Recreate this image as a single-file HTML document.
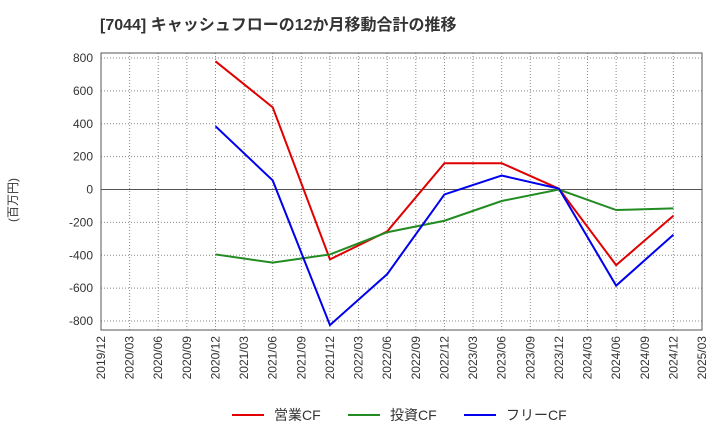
<!DOCTYPE html>
<html><head><meta charset="utf-8"><style>
body{margin:0;background:#fff;font-family:"Liberation Sans","Noto Sans CJK JP",sans-serif;}
</style></head><body>
<svg id="c" width="720" height="440" xmlns="http://www.w3.org/2000/svg">
<text x="100" y="30" font-size="16" font-weight="bold" fill="#333">[7044]  キャッシュフローの12か月移動合計の推移</text>
<text x="17" y="200" font-size="12" fill="#333" transform="rotate(-90 17 200)" text-anchor="middle">(百万円)</text>
</svg>
<script>
const xLabels=["2019/12","2020/03","2020/06","2020/09","2020/12","2021/03","2021/06","2021/09","2021/12","2022/03","2022/06","2022/09","2022/12","2023/03","2023/06","2023/09","2023/12","2024/03","2024/06","2024/09","2024/12","2025/03"];
const yTicks=[800,600,400,200,0,-200,-400,-600,-800];
const periods=["2020/12","2021/06","2021/12","2022/06","2022/12","2023/06","2023/12","2024/06","2024/12"];
const opCF=[780,500,-425,-255,160,160,5,-460,-160];
const invCF=[-395,-445,-395,-260,-190,-70,0,-125,-115];
const freeCF=[385,55,-825,-515,-30,85,5,-585,-275];
const svg=document.getElementById('c');
const NS="http://www.w3.org/2000/svg";
const L=101,R=702,T=53,B=330;
const y=v=>189.5-v*(263/1600);
const x=lbl=>L+xLabels.indexOf(lbl)*(R-L)/(xLabels.length-1);
function mk(t,a){const e=document.createElementNS(NS,t);for(const k in a)e.setAttribute(k,a[k]);svg.appendChild(e);return e;}
xLabels.forEach(l=>{
 const g=mk('line',{x1:x(l),x2:x(l),y1:T,y2:B,stroke:'#888','stroke-dasharray':'1,2','stroke-width':1});
 
 
 const t=mk('text',{x:0,y:0,'font-size':12,fill:'#333','text-anchor':'end',transform:`translate(${x(l)+4},${B+6}) rotate(-90)`});
 t.textContent=l;
 
 
});
yTicks.forEach(v=>{
 const g=mk('line',{x1:L,x2:R,y1:y(v),y2:y(v),stroke:v===0?'#555':'#888','stroke-dasharray':v===0?'':'1,2','stroke-width':1});
 
 
 const t=mk('text',{x:L-8,y:y(v)+4,'font-size':12,fill:'#333','text-anchor':'end'});
 t.textContent=v;
 
 
});
const frame=mk('rect',{x:L,y:T,width:R-L,height:B-T,fill:'none',stroke:'#555'});


function series(vals,color,name){
 const p=mk('polyline',{points:vals.map((v,i)=>x(periods[i])+','+y(v)).join(' '),fill:'none',stroke:color,'stroke-width':2});
 
 
}
series(opCF,'#e00000','operating-cf-line');
series(invCF,'#228b22','investing-cf-line');
series(freeCF,'#0000ee','free-cf-line');
const leg=[["営業CF","#e00000",232],["投資CF","#228b22",348],["フリーCF","#0000ee",464]];
leg.forEach(([n,c,lx])=>{
 const l=mk('line',{x1:lx,x2:lx+32,y1:415,y2:415,stroke:c,'stroke-width':2});
 
 
 const t=mk('text',{x:lx+42,y:420,'font-size':14,fill:'#333'});
 t.textContent=n;
 
 
});
</script>
</body></html>
